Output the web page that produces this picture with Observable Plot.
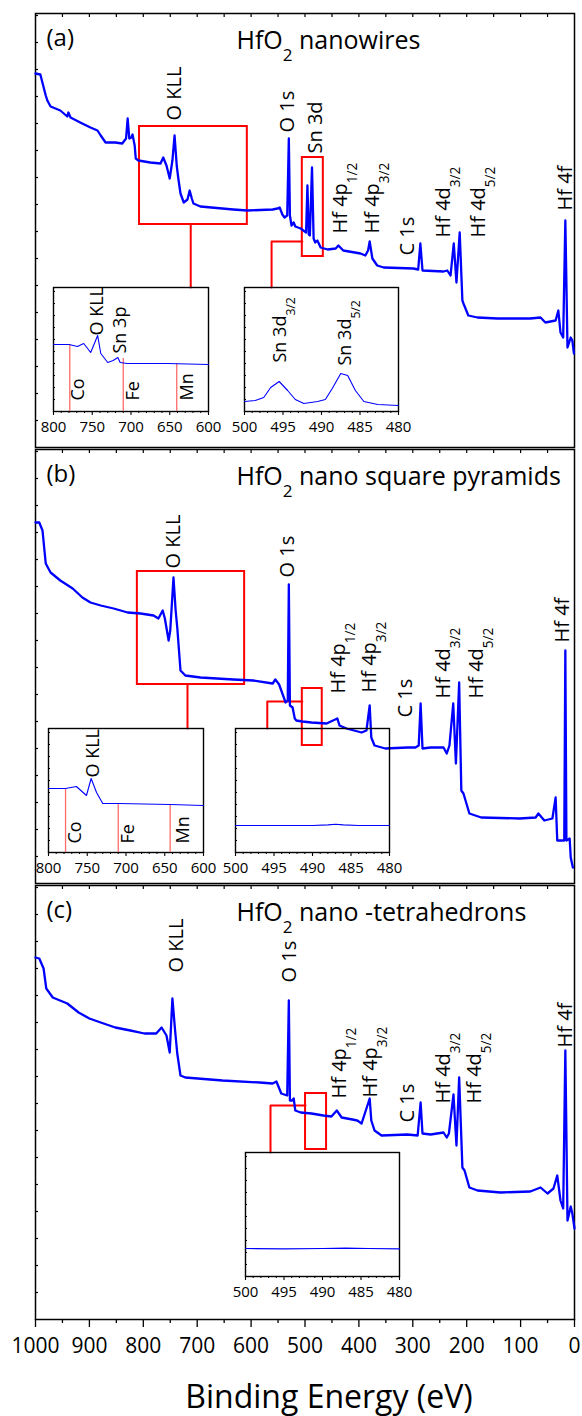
<!DOCTYPE html>
<html>
<head>
<meta charset="utf-8">
<script src="https://cdn.jsdelivr.net/npm/d3@7"></script>
<script src="https://cdn.jsdelivr.net/npm/@observablehq/plot@0.6"></script>
<style>
  body { margin: 0; background: #fff; }
  #chart { position: relative; width: 582px; height: 1416px; font-family: "Open Sans", sans-serif; }
  #chart > div { position: absolute; }
  #chart svg { max-width: none; overflow: visible; }
</style>
</head>
<body>
<div id="chart"></div>
<script>
// ---------- Survey spectra: [binding energy (eV), intensity (a.u.)] ----------
const spectrumA = [[1000,374],[991,373],[981,352],[978,347],[972,341],[954,337],[941,331],[939,335],[935,330],[917,325],[898,320],[885,317],[879,312],[870,305],[852,305],[839,304],[832,309],[829,329],[826,309],[822,310],[820,313],[816,302],[814,289],[809,287],[787,285],[768,284],[763,290],[757,282],[751,269],[746,287],[742,312],[738,282],[735,269],[731,254],[725,245],[718,248],[714,257],[710,249],[707,244],[694,241],[633,238],[607,237],[560,238],[551,239],[547,240],[542,233],[538,230],[533,232],[530,309],[528,232],[525,222],[521,225],[518,221],[508,219],[503,217],[498,215],[495.5,262],[493,213],[491,212],[487,280],[484,209],[481,205],[477,207],[471,200],[458,198],[443,199],[438,202],[429,197],[397,194],[388,192],[383,197],[380,206],[375,189],[366,182],[354,180],[299,179],[290,178],[286,204],[282,177],[243,176],[236,177],[230,172],[224,204],[219,165],[213,215],[208,147],[206,144],[197,132],[180,130],[143,129],[82,129],[63,130],[54,125],[35,127],[30,137],[26,115],[21,110],[17,227],[13,100],[7,110],[4,107],[1,94]];

const spectrumB = [[1000,361],[993,361],[987,353],[981,320],[972,311],[954,303],[931,295],[913,286],[898,281],[879,278],[855,275],[829,271],[805,270],[781,268],[772,265],[764,273],[760,265],[753,243],[750,253],[744,306],[740,273],[737,256],[731,213],[722,208],[694,206],[633,204],[596,203],[560,200],[555,204],[548,199],[542,190],[536,181],[532,183],[530,299],[528,178],[523,176],[519,165],[516,163],[505,162],[488,161],[460,160],[440,165],[436,158],[423,155],[395,151],[386,153],[380,178],[377,146],[371,138],[351,135],[310,136],[295,136],[289,138],[285.5,180],[282,135],[267,136],[243,136],[237,130],[232,138],[225,180],[220,120],[214,201],[210,93],[206,90],[195,70],[173,66],[102,65],[72,66],[67,70],[56,63],[41,65],[35,86],[32,43],[19,43],[17,233],[15,43],[9,45],[7,26],[3,16]];

const spectrumC = [[1000,362],[993,361],[985,351],[980,331],[968,322],[941,316],[920,307],[900,301],[879,297],[852,292],[824,289],[798,286],[776,286],[766,292],[757,284],[751,267],[746,321],[741,289],[737,266],[731,244],[722,242],[653,239],[584,237],[560,236],[553,238],[544,226],[533,224],[530,319],[528,219],[524,219],[521,221],[518,209],[508,207],[488,206],[466,204],[451,203],[441,209],[432,202],[412,200],[403,199],[395,196],[380,221],[377,199],[371,189],[358,184],[310,185],[291,184],[285.5,217],[282,186],[267,185],[243,187],[237,182],[233,186],[224.5,225],[219,174],[214,242],[208,152],[204,149],[195,132],[180,129],[137,127],[82,128],[63,132],[50,126],[39,131],[32,144],[26,119],[21,111],[17,269],[13,99],[7,113],[4,106],[0,91]];

// ---------- Peak assignments: [label, energy, intensity at label foot] ----------
const peaksA = [["O KLL",742,327],["O 1s",532,315],["Sn 3d",481,294],["Hf 4p_{1/2}",434,214],["Hf 4p_{3/2}",375,214],["C 1s",310,192],["Hf 4d_{3/2}",243,210],["Hf 4d_{5/2}",178,210],["Hf 4f",17,237]];
const peaksB = [["O KLL",744,315],["O 1s",532,306],["Hf 4p_{1/2}",438,190],["Hf 4p_{3/2}",380,191],["C 1s",314,166],["Hf 4d_{3/2}",243,185],["Hf 4d_{5/2}",182,185],["Hf 4f",22,241]];
const peaksC = [["O KLL",738,347],["O 1s",529,337],["Hf 4p_{1/2}",436,221],["Hf 4p_{3/2}",378,222],["C 1s",310,197],["Hf 4d_{3/2}",243,216],["Hf 4d_{5/2}",186,216],["Hf 4f",17,272]];

// ---------- Zoom windows (eV, intensity) and their leader lines ----------
const windowsA = [{x1:807,x2:607,y1:223,y2:321},{x1:505,x2:466,y1:191,y2:290}];
const leadersA = [[[712,223],[712,160]],[[562,160],[562,206],[505,206]]];
const windowsB = [{x1:811,x2:612,y1:199,y2:312},{x1:505,x2:468,y1:138,y2:195}];
const leadersB = [[[718,199],[718,155]],[[570,155],[570,182],[505,182]]];
const windowsC = [{x1:499,x2:460,y1:170,y2:226}];
const leadersC = [[[564,167],[564,214],[499,214]]];

// ---------- Inset spectra: [energy, intensity] ----------
const augerA = [[800,67],[780,67],[769,65],[761,68],[752,59],[743,76],[739,58],[730,49],[723,51],[717,54],[714,49],[705,48],[653,48],[600,47]];
const sn3dA = [[500,10],[498.6,11],[497.5,14],[496.6,24],[495.5,30],[494.4,21],[493.4,12],[492.3,8],[490.5,10],[489.5,12],[488.6,23],[487.5,38],[486.6,36],[485.6,21],[484.5,10],[482.7,7],[480,6]];
const augerB = [[800,64],[778,64],[764,66],[751,57],[745,74],[738,60],[730,49],[710,49],[643,48],[600,47]];
const sn3dB = [[500,27],[495,27],[490,27],[488,27.6],[487,28.3],[486,27.6],[484,27],[480,27]];
const sn3dC = [[500,28],[495,27.6],[490,28],[487,28.4],[484,28],[480,27.6]];

// Transition-metal 2p3/2 positions in the Auger insets: [element, energy, line top]
const metalsA = [["Co",779,67],["Fe",710,53],["Mn",641,48]];
const metalsB = [["Co",778,64],["Fe",710,49],["Mn",643,48]];
// Inset labels: [label, energy, intensity at label foot]
const augerLabelsA = [["O KLL",743,76],["Sn 3p",714,58],["Co",768,11],["Fe",697,11],["Mn",627,11]];
const augerLabelsB = [["O KLL",742,75],["Co",766,9],["Fe",697,9],["Mn",626,9]];
const sn3dLabelsA = [["Sn 3d_{3/2}",495.3,49],["Sn 3d_{5/2}",486.9,46]];

// ---------- Ticks ----------
const energyTicks = [1000,900,800,700,600,500,400,300,200,100,0];
const energyMinor = [950,850,750,650,550,450,350,250,150,50];
const frameTicks = [950,900,850,800,750,700,650,600,550,500,450,400,350,300,250,200,150,100,50];
const intensityTicks = [27,54,81,108,135,162,189,216,243,270,297,324,351,378,405,432];
const augerTicks = [800,750,700,650,600];
const augerMinor = [790,780,770,760,740,730,720,710,690,680,670,660,640,630,620,610];
const sn3dTicks = [500,495,490,485,480];
const sn3dMinor = [499,498,497,496,494,493,492,491,489,488,487,486,484,483,482,481];
const insetIntensityTicks = [12,24,36,48,60,72,84,96,108,120];

const panels = [
  {tag: "(a)", title: "HfO_{2} nanowires", spectrum: spectrumA, peaks: peaksA, windows: windowsA, leaders: leadersA, top: 13},
  {tag: "(b)", title: "HfO_{2} nano square pyramids", spectrum: spectrumB, peaks: peaksB, windows: windowsB, leaders: leadersB, top: 449},
  {tag: "(c)", title: "HfO_{2} nano -tetrahedrons", spectrum: spectrumC, peaks: peaksC, windows: windowsC, leaders: leadersC, top: 885, axis: true}
];

const insets = [
  {box: {left: 53, top: 287, width: 155, height: 124}, domain: [800, 600], ticks: augerTicks, minor: augerMinor, curve: augerA, metals: metalsA, labels: augerLabelsA},
  {box: {left: 244, top: 287, width: 154, height: 124}, domain: [500, 480], ticks: sn3dTicks, minor: sn3dMinor, curve: sn3dA, metals: [], labels: sn3dLabelsA},
  {box: {left: 48, top: 728, width: 155, height: 124}, domain: [800, 600], ticks: augerTicks, minor: augerMinor, curve: augerB, metals: metalsB, labels: augerLabelsB},
  {box: {left: 235, top: 728, width: 154, height: 124}, domain: [500, 480], ticks: sn3dTicks, minor: sn3dMinor, curve: sn3dB, metals: [], labels: []},
  {box: {left: 245, top: 1152, width: 154, height: 124}, domain: [500, 480], ticks: sn3dTicks, minor: sn3dMinor, curve: sn3dC, metals: [], labels: []}
];

const FONT = "'Open Sans', sans-serif";
const BLUE = "#0000ff";
const RED = "#ff0000";
const root = document.getElementById("chart");
const blank = () => "";

function place(svg, left, top) {
  const wrap = document.createElement("div");
  wrap.style.left = left + "px";
  wrap.style.top = top + "px";
  wrap.appendChild(svg);
  root.appendChild(wrap);
}

function drawPanel(p) {
  const frameH = 434, mt = 2, mb = p.axis ? 1416 - p.top - frameH : 2;
  const leaderPts = p.leaders.flatMap((path, k) => path.map(([e, c]) => ({e, c, k})));
  const marks = [
    Plot.frame({stroke: "black", strokeWidth: 1.5}),
    Plot.axisY({ticks: intensityTicks, tickSize: -3, tickFormat: blank, label: null, strokeWidth: 1.2}),
    Plot.axisX({anchor: "top", ticks: frameTicks, tickSize: -3, tickFormat: blank, label: null, strokeWidth: 1.2}),
    Plot.rect(p.windows, {x1: "x1", x2: "x2", y1: "y1", y2: "y2", fill: "none", stroke: RED, strokeWidth: 2}),
    Plot.line(leaderPts, {x: "e", y: "c", z: "k", stroke: RED, strokeWidth: 2}),
    Plot.line(p.spectrum, {x: d => d[0], y: d => d[1], stroke: BLUE, strokeWidth: 2.3, strokeLinejoin: "round"}),
    Plot.text(p.peaks, {x: d => d[1], y: d => d[2], text: d => d[0], rotate: -90, textAnchor: "start", lineAnchor: "middle", fontSize: 20, fill: "black"}),
    Plot.text([p.tag], {text: d => d, frameAnchor: "top-left", textAnchor: "start", lineAnchor: "middle", dx: 11, dy: 25, fontSize: 24, fill: "black"}),
    Plot.text([p.title], {text: d => d, frameAnchor: "top-left", textAnchor: "start", lineAnchor: "middle", dx: 201, dy: 27, fontSize: 25, fill: "black"})
  ];
  if (p.axis) {
    marks.push(
      Plot.axisX({anchor: "bottom", ticks: energyTicks, tickSize: 8, tickPadding: 11, tickFormat: "d", fontSize: 21, label: null, strokeWidth: 1.3}),
      Plot.axisX({anchor: "bottom", ticks: energyMinor, tickSize: 4, tickFormat: blank, label: null, strokeWidth: 1.3}),
      Plot.text(["Binding Energy (eV)"], {text: d => d, frameAnchor: "bottom", lineAnchor: "middle", dx: 24, dy: 78, fontSize: 32, fill: "black"})
    );
  }
  const svg = Plot.plot({
    width: 582, height: frameH + mt + mb,
    marginLeft: 35, marginRight: 8, marginTop: mt, marginBottom: mb,
    style: {background: "transparent", fontFamily: FONT, overflow: "visible", maxWidth: "none"},
    x: {domain: [1000, 0], label: null},
    y: {domain: [0, frameH], label: null},
    marks
  });
  place(svg, 0, p.top - mt);
}

function drawInset(s) {
  const ml = 16, mr = 16, mt = 2, mb = 30, b = s.box;
  const svg = Plot.plot({
    width: b.width + ml + mr, height: b.height + mt + mb,
    marginLeft: ml, marginRight: mr, marginTop: mt, marginBottom: mb,
    style: {background: "transparent", fontFamily: FONT, overflow: "visible", maxWidth: "none"},
    x: {domain: s.domain, label: null},
    y: {domain: [0, b.height], label: null},
    marks: [
      Plot.frame({stroke: "black", strokeWidth: 1.4}),
      Plot.axisX({anchor: "bottom", ticks: s.ticks, tickSize: 4, tickPadding: 6, fontSize: 15, label: null, tickFormat: "d", strokeWidth: 1.1}),
      Plot.axisX({anchor: "bottom", ticks: s.minor, tickSize: 2, tickFormat: blank, label: null, strokeWidth: 1}),
      Plot.axisY({ticks: insetIntensityTicks, tickSize: -2, tickFormat: blank, label: null, strokeWidth: 1}),
      Plot.ruleX(s.metals, {x: d => d[1], y1: 0, y2: d => d[2], stroke: "#ff6b6b", strokeWidth: 1.3}),
      Plot.line(s.curve, {x: d => d[0], y: d => d[1], stroke: BLUE, strokeWidth: 1.1}),
      Plot.text(s.labels, {x: d => d[1], y: d => d[2], text: d => d[0], rotate: -90, textAnchor: "start", lineAnchor: "middle", fontSize: 18, fill: "black"})
    ]
  });
  place(svg, b.left - ml, b.top - mt);
}

panels.forEach(drawPanel);
insets.forEach(drawInset);

// Render "_{...}" segments as subscripts
root.querySelectorAll("text").forEach(t => {
  const s = t.textContent;
  if (!s.includes("_{")) return;
  t.textContent = "";
  s.split(/_\{([^}]*)\}/).forEach((part, i) => {
    if (!part) return;
    const ts = document.createElementNS("http://www.w3.org/2000/svg", "tspan");
    ts.textContent = part;
    if (i % 2) {
      ts.setAttribute("font-size", "0.68em");
      ts.setAttribute("baseline-shift", "sub");
    }
    t.appendChild(ts);
  });
});
</script>
</body>
</html>
